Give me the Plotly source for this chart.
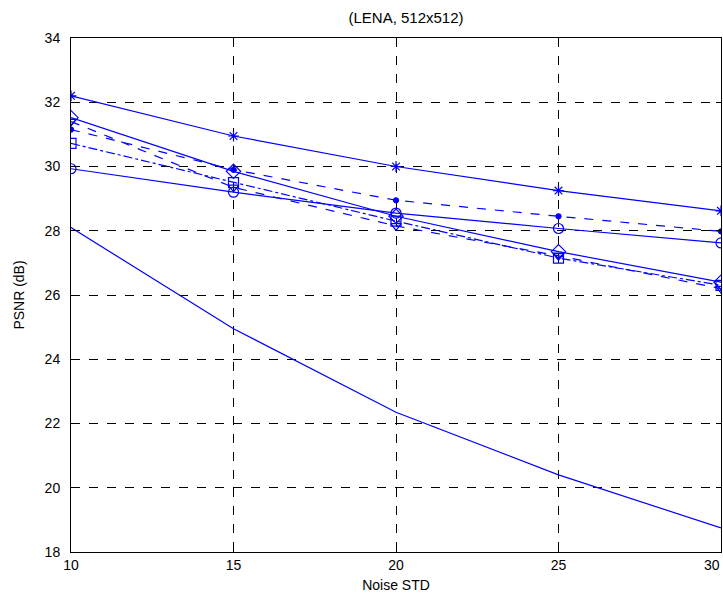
import plotly.graph_objects as go

# Noise standard deviations tested
noise_std = [10, 15, 20, 25, 30]

# PSNR (dB) of each denoising method on LENA 512x512
psnr_star = [32.20, 30.95, 30.00, 29.25, 28.62]
psnr_dot = [31.15, 29.90, 28.95, 28.45, 27.98]
psnr_circle = [29.93, 29.20, 28.55, 28.07, 27.62]
psnr_diamond = [31.52, 29.85, 28.45, 27.35, 26.40]
psnr_square = [30.72, 29.50, 28.30, 27.15, 26.30]
psnr_triangle = [31.40, 29.35, 28.15, 27.22, 26.20]
psnr_noisy = [28.10, 24.95, 22.35, 20.40, 18.75]

x_ticks = [10, 15, 20, 25, 30]
y_ticks = [18, 20, 22, 24, 26, 28, 30, 32, 34]

BLUE = "#0000ff"
FONT = "Liberation Sans Narrow, Liberation Sans, Arial, sans-serif"
TICK_SIZE = 14

series = [
    (psnr_star, "solid", "asterisk-open", 9),
    (psnr_dot, "dash", "circle", 5),
    (psnr_circle, "solid", "circle-open", 10),
    (psnr_diamond, "solid", "diamond-open", 11),
    (psnr_square, "dashdot", "square-open", 10),
    (psnr_triangle, "dash", "triangle-down-open", 9),
]

fig = go.Figure()
for values, dash, symbol, size in series:
    fig.add_trace(go.Scatter(
        x=noise_std, y=values, mode="lines+markers",
        line=dict(color=BLUE, width=1.2, dash=dash),
        marker=dict(symbol=symbol, size=size, color=BLUE,
                    line=dict(color=BLUE, width=1.2)),
        showlegend=False,
    ))

fig.add_trace(go.Scatter(
    x=noise_std, y=psnr_noisy, mode="lines",
    line=dict(color=BLUE, width=1.2), showlegend=False,
))

axis_common = dict(
    showline=True, linecolor="black", linewidth=1, mirror="ticks",
    ticks="inside", ticklen=5, tickcolor="black",
    showgrid=True, gridcolor="black", gridwidth=1, griddash="dash",
    zeroline=False, tickfont=dict(family=FONT, size=TICK_SIZE, color="black"),
)

# The last x tick sits on the right edge of the figure, so its label is
# placed as a right-aligned annotation instead of a centred tick label.
fig.update_xaxes(
    range=[10, 30], tickvals=x_ticks,
    ticktext=[str(v) for v in x_ticks[:-1]] + [""],
    title=dict(text="Noise STD", font=dict(family=FONT, size=14, color="black"),
               standoff=8),
    **axis_common,
)
fig.add_annotation(
    x=x_ticks[-1], xref="x", y=0, yref="paper",
    text=str(x_ticks[-1]), showarrow=False,
    xanchor="right", yanchor="top", xshift=1, yshift=-3,
    font=dict(family=FONT, size=TICK_SIZE, color="black"),
)

fig.update_yaxes(
    range=[18, 34], tickvals=y_ticks,
    ticklabelstandoff=7,
    title=dict(text="PSNR (dB)", font=dict(family=FONT, size=14, color="black"),
               standoff=16),
    **axis_common,
)

fig.update_layout(
    width=723, height=601,
    margin=dict(l=71, r=2, t=38, b=49),
    paper_bgcolor="white", plot_bgcolor="white",
    title=dict(text="(LENA, 512x512)", x=406 / 723, xanchor="center",
               y=1 - 18 / 601, yanchor="middle", yref="container",
               font=dict(family=FONT, size=15, color="black")),
)

fig.write_html("out.html")
